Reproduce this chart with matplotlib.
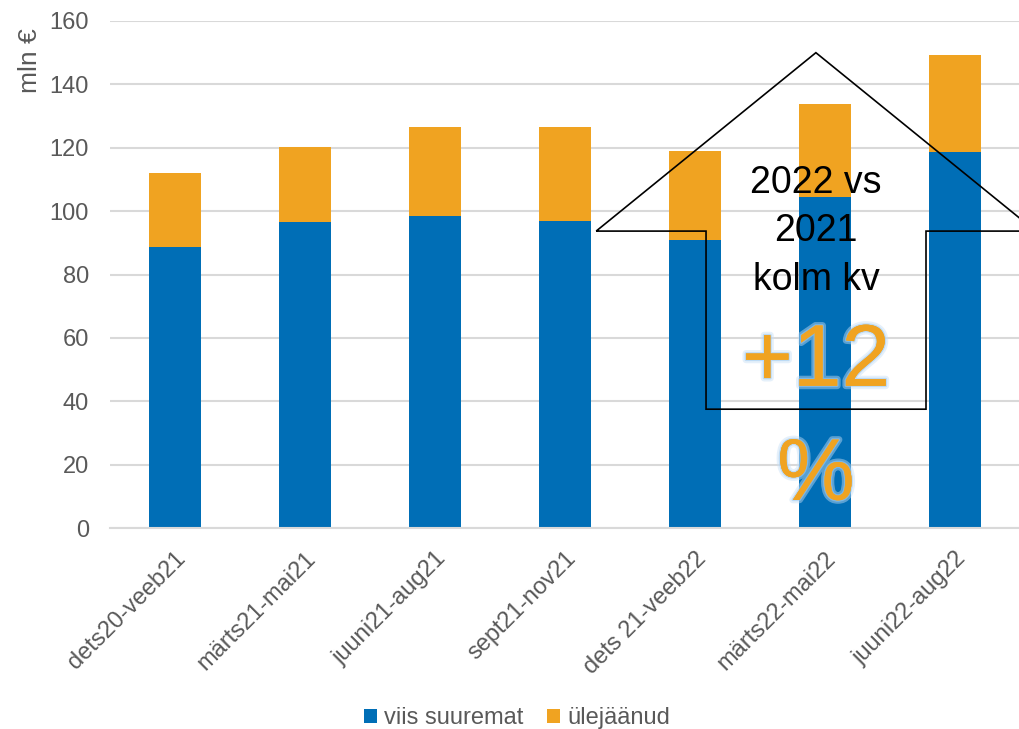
import numpy as np
import matplotlib.pyplot as plt
import matplotlib.patheffects as pe
from matplotlib.patches import Polygon

plt.rcParams['font.family'] = ['Liberation Sans', 'DejaVu Sans']

# data (mln €)
periods = ['dets20-veeb21', 'märts21-mai21', 'juuni21-aug21', 'sept21-nov21',
           'dets 21-veeb22', 'märts22-mai22', 'juuni22-aug22']
top5 = [88.7, 96.6, 98.5, 96.9, 90.9, 104.4, 118.6]
rest = [23.3, 23.6, 28.0, 29.6, 28.1, 29.4, 30.7]

blue = '#006EB6'
orange = '#F0A321'
grey = '#595959'

fig = plt.figure(figsize=(10.2, 7.29), dpi=100)
ax = fig.add_axes([0.1078, 0.2757, 0.8922, 0.6955])

x = np.arange(len(periods))
ax.bar(x, top5, width=0.4, color=blue, label='viis suuremat', zorder=2)
ax.bar(x, rest, width=0.4, bottom=top5, color=orange, label='ülejäänud', zorder=2)

ax.set_xlim(-0.5, 6.5)
ax.set_ylim(0, 160)
ax.set_yticks(range(0, 161, 20))
ax.grid(axis='y', color='#D9D9D9', linewidth=1.5, zorder=0)
ax.set_axisbelow(True)
for s in ['top', 'right', 'left']:
    ax.spines[s].set_visible(False)
ax.spines['bottom'].set_color('#D9D9D9')
ax.spines['bottom'].set_linewidth(1.5)
ax.tick_params(axis='y', length=0, pad=15, labelsize=17, labelcolor=grey)
ax.tick_params(axis='x', length=0, pad=14, labelsize=17, labelcolor=grey)
ax.set_xticks(x)
ax.set_xticklabels(periods, rotation=45, ha='right', rotation_mode='anchor')

fig.text(30 / 1020, 1 - 61 / 729, 'mln €', rotation=90, ha='center', va='center',
         fontsize=19, color=grey)

# house shaped arrow overlay
arrow_pts = [(3.24, 93.7), (4.93, 150.0), (6.62, 93.7), (5.777, 93.7),
             (5.777, 37.5), (4.085, 37.5), (4.085, 93.7)]
ax.add_patch(Polygon(arrow_pts, closed=True, fill=False, edgecolor='black',
                     linewidth=1.2, clip_on=False, zorder=3))

ax.text(4.93, 93.6, '2022 vs\n2021\nkolm kv', ha='center', va='center',
        fontsize=27, color='black', linespacing=1.45, zorder=4)

glow = [pe.withStroke(linewidth=5, foreground='#C6DFF6', alpha=0.45),
        pe.withStroke(linewidth=2, foreground='#9CCAF2', alpha=0.55),
        pe.Normal()]
ax.text(4.93, 52.0, '+12', ha='center', va='center', fontsize=63, color=orange,
        path_effects=glow, zorder=4)
ax.text(4.93, 16.0, '%', ha='center', va='center', fontsize=63, color=orange,
        path_effects=glow, zorder=4)

fig.legend(loc='center', bbox_to_anchor=(517 / 1020, 1 - 718 / 729), ncol=2,
           frameon=False, fontsize=17, labelcolor=grey, handlelength=0.55,
           handleheight=0.55, handletextpad=0.3, columnspacing=1.0)

fig.savefig('out.png', dpi=100)
